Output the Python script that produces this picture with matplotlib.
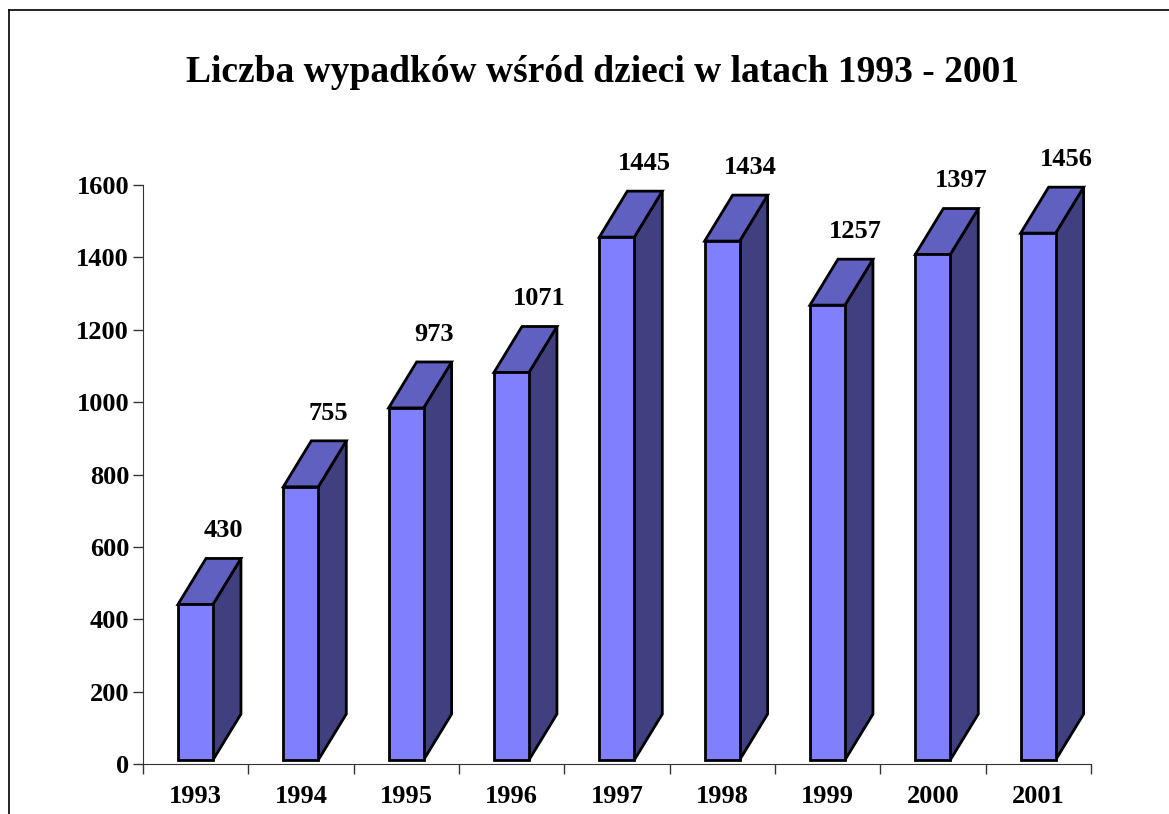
import matplotlib
matplotlib.use("Agg")
import matplotlib.pyplot as plt
from matplotlib.lines import Line2D

# dane z wykresu
lata = ["1993", "1994", "1995", "1996", "1997", "1998", "1999", "2000", "2001"]
wypadki = [430, 755, 973, 1071, 1445, 1434, 1257, 1397, 1456]
y_ticks = [0, 200, 400, 600, 800, 1000, 1200, 1400, 1600]

plt.rcParams['font.family'] = ['Liberation Serif', 'DejaVu Serif']
plt.rcParams['font.weight'] = 'bold'

fig = plt.figure(figsize=(11.69, 8.14), dpi=100)
W, H = 1169, 814
ax = fig.add_axes([143 / W, (H - 764) / H, (1091 - 143) / W, (764 - 185) / H])

# kolory slupkow 3D (styl Excela)
c_front = "#8080FF"
c_top = "#6060C0"
c_side = "#404080"

base = 11      # przod slupka lekko nad osia
dx = 0.266     # glebokosc w poziomie (kategorie)
dy = 127       # glebokosc w pionie (jednostki danych)

for i, v in enumerate(wypadki):
    x0 = i - 0.5 + 0.332
    x1 = i - 0.5 + 0.664
    top = v + base
    # bok
    ax.fill([x1, x1 + dx, x1 + dx, x1], [base, base + dy, top + dy, top],
            facecolor=c_side, edgecolor="black", linewidth=2, clip_on=False, zorder=2)
    # gora
    ax.fill([x0, x1, x1 + dx, x0 + dx], [top, top, top + dy, top + dy],
            facecolor=c_top, edgecolor="black", linewidth=2, clip_on=False, zorder=2)
    # przod
    ax.fill([x0, x1, x1, x0], [base, base, top, top],
            facecolor=c_front, edgecolor="black", linewidth=2, clip_on=False, zorder=3)
    ax.annotate(str(v), ((x0 + x1) / 2 + dx, top + dy), xytext=(0, 20),
                textcoords="offset points", ha="center", va="center",
                fontsize=19, fontweight="bold", annotation_clip=False)

ax.set_xlim(-0.5, len(lata) - 0.5)
ax.set_ylim(0, 1600)
ax.set_yticks(y_ticks)
ax.set_xticks(range(len(lata)))
ax.set_xticklabels(lata)
ax.set_xticks([i - 0.5 for i in range(len(lata) + 1)], minor=True)
ax.tick_params(axis="x", which="major", length=0, pad=15, labelsize=19)
ax.tick_params(axis="x", which="minor", length=7, width=1, color="#333333")
ax.tick_params(axis="y", length=7, width=1, pad=3, labelsize=19, color="#333333")
for lab in ax.get_xticklabels() + ax.get_yticklabels():
    lab.set_fontweight("bold")

ax.spines["top"].set_visible(False)
ax.spines["right"].set_visible(False)
ax.spines["left"].set_color("#333333")
ax.spines["bottom"].set_color("#333333")
ax.patch.set_alpha(0)

fig.text(602 / W, 1 - 72 / H, "Liczba wypadków wśród dzieci w latach 1993 - 2001",
         ha="center", va="center", fontsize=27, fontweight="bold")

# ramka wykresu (lewa i gorna krawedz)
fig.add_artist(Line2D([9 / W, 9 / W], [0, 1 - 10 / H], transform=fig.transFigure,
                      color="black", linewidth=1.2))
fig.add_artist(Line2D([9 / W, 1], [1 - 10 / H, 1 - 10 / H], transform=fig.transFigure,
                      color="black", linewidth=1.2))

fig.savefig("out.png", dpi=100)
